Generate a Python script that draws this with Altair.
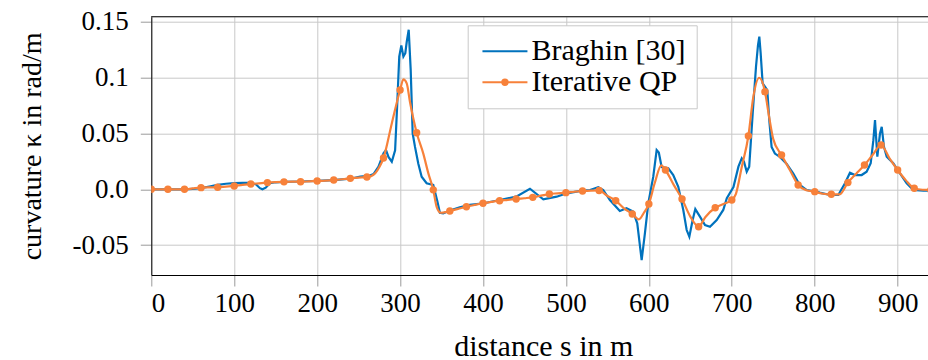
import altair as alt
import pandas as pd

series_names = ["Braghin [30]", "Iterative QP"]
series_colors = ["#0072bd", "#f7813a"]

braghin_s = [0, 20, 40, 50, 60, 70, 80, 90, 100, 110, 120, 126, 131, 134, 138, 143, 150, 160, 180, 200,
             220, 240, 252, 262, 268, 274, 280, 283, 286, 290, 294, 296.6, 299, 301.5, 304, 306.3, 308,
             310.4, 312.8, 315.2, 318, 322, 326, 332, 340, 345, 348, 352, 360, 372, 384, 401, 420, 440,
             456.6, 472.7, 488.8, 501, 521, 529, 539, 545, 553, 565, 573, 581, 586, 591.3, 595.3, 599.3,
             605.3, 609.4, 612, 615.4, 623.4, 629.4, 635.5, 641.5, 645.6, 648.8, 652.8, 656, 661.6, 667.7,
             673.7, 681.8, 689.7, 694, 702, 708, 712, 714.7, 718, 721, 725.2, 729.2, 731.6, 733.2, 734.8,
             737.2, 740, 742.8, 745.2, 748, 752, 758, 766, 774, 782, 790, 802, 806, 818.4, 828.4, 836.5,
             842.5, 848.5, 856.6, 862.6, 867.5, 870.7, 872.7, 875.5, 878.7, 880.8, 883.5, 886.8, 894.7,
             902.8, 910.9, 918.8, 931, 945]
braghin_k = [0, 0, 0, 0.0003, 0.001, 0.0025, 0.004, 0.005, 0.0055, 0.0058, 0.0058, 0.0045, 0.001, 0.0,
             0.0015, 0.0055, 0.0063, 0.0066, 0.007, 0.0075, 0.0082, 0.0095, 0.0113, 0.012, 0.0137, 0.0203,
             0.0323, 0.0352, 0.029, 0.0247, 0.035, 0.077, 0.119, 0.129, 0.119, 0.122, 0.132, 0.143, 0.107,
             0.05, 0.038, 0.023, 0.0113, 0.0054, 0.0039, -0.011, -0.021, -0.0215, -0.019, -0.0161, -0.014,
             -0.0125, -0.0096, -0.0066, 0.0005, -0.009, -0.0066, -0.0036, -0.0009, -0.0006, 0.0018, -0.0006,
             -0.0096, -0.0194, -0.017, -0.02, -0.0305, -0.0634, -0.039, -0.0125, 0.0113, 0.0352, 0.033,
             0.02, 0.0188, 0.0128, 0.0023, -0.0185, -0.0365, -0.0425, -0.0275, -0.0177, -0.0245, -0.032,
             -0.0335, -0.0275, -0.0185, -0.008, 0.002, 0.0203, 0.0278, 0.0247, 0.0158, 0.0203, 0.068, 0.11,
             0.1293, 0.1368, 0.122, 0.095, 0.092, 0.089, 0.062, 0.038, 0.032, 0.029, 0.023, 0.0143, 0.0039,
             -0.0006, -0.002, -0.003, -0.0051, -0.0051, 0.0054, 0.0149, 0.0128, 0.0128, 0.0158, 0.0233,
             0.044, 0.062, 0.0292, 0.05, 0.056, 0.038, 0.0292, 0.0233, 0.0143, 0.0054, -0.0006, -0.0012,
             -0.001]

qp_s = [0, 10, 20, 30, 40, 50, 60, 70, 80, 90, 100, 110, 120, 130, 140, 150, 160, 170, 180, 190, 200,
        210, 220, 230, 240, 250, 260, 265, 270, 275, 280, 290, 300, 304, 308, 312, 320, 328, 334, 340,
        344, 349, 355, 360, 370, 380, 390, 400, 410, 420, 430, 440, 450, 460, 470, 480, 490, 500, 510,
        520, 530, 540, 550, 560, 570, 580, 588, 594, 600, 607, 615, 620, 630, 640, 650, 660, 668, 680,
        690, 700, 705, 712, 720, 726, 733, 740, 745, 750, 760, 770, 780, 790, 800, 810, 820, 830, 840,
        850, 860, 870, 880, 890, 900, 910, 920, 930, 940]
qp_k = [0, 0, 0, 0, 0, 0.0008, 0.0015, 0.0017, 0.0018, 0.0024, 0.003, 0.004, 0.0047, 0.0054, 0.006,
        0.0064, 0.0067, 0.0068, 0.0068, 0.0071, 0.0074, 0.0078, 0.0083, 0.009, 0.0098, 0.0105, 0.011,
        0.0118, 0.0143, 0.02, 0.028, 0.059, 0.089, 0.0985, 0.095, 0.078, 0.0507, 0.032, 0.0145, -0.0005,
        -0.0155, -0.021, -0.0205, -0.0195, -0.0175, -0.0156, -0.014, -0.0125, -0.0113, -0.0102, -0.0095,
        -0.0087, -0.008, -0.0072, -0.0057, -0.0042, -0.0036, -0.003, -0.0022, -0.0015, -0.0011, -0.001,
        -0.006, -0.0102, -0.017, -0.0221, -0.0269, -0.021, -0.0132, 0.0054, 0.0215, 0.0173, 0.004,
        -0.0087, -0.0245, -0.0335, -0.025, -0.0165, -0.0132, -0.0096, -0.004, 0.02, 0.0478, 0.083, 0.1,
        0.0875, 0.065, 0.045, 0.0307, 0.0173, 0.0039, -0.0008, -0.0021, -0.004, -0.0045, -0.0045, 0.006,
        0.014, 0.0218, 0.031, 0.0397, 0.028, 0.0173, 0.008, 0.0009, -0.0004, -0.0006]
marker_step = 20

x_ticks = [0, 100, 200, 300, 400, 500, 600, 700, 800, 900]
y_ticks = [-0.05, 0.0, 0.05, 0.1, 0.15]
y_tick_labels = ["-0.05", "0.0", "0.05", "0.1", "0.15"]
x_domain = [0, 936.6]
y_domain = [-0.0768, 0.1547]

FONT = "Liberation Serif"
PLOT_W, PLOT_H = 776.7, 258.3

df_b = pd.DataFrame({"s": braghin_s, "k": braghin_k, "series": series_names[0]})
df_q = pd.DataFrame({"s": qp_s, "k": qp_k, "series": series_names[1]})
df_m = df_q[df_q["s"] % marker_step == 0]
df_leg = pd.DataFrame({"s": [0, 0], "k": [0, 0], "series": series_names})

y_expr = " : ".join(f"abs(datum.value - ({v})) < 0.000001 ? '{lab}'" for v, lab in zip(y_ticks, y_tick_labels)) + " : ''"


def circle_path(r):
    c = round(0.5523 * r, 4)
    return (f"M{r},0C{r},{c} {c},{r} 0,{r}C{-c},{r} {-r},{c} {-r},0"
            f"C{-r},{-c} {-c},{-r} 0,{-r}C{c},{-r} {r},{-c} {r},0Z")


line_path = "M-2,0L2,0"
qp_path = line_path + circle_path(0.24)

xs = alt.Scale(domain=x_domain, nice=False, zero=False)
ys = alt.Scale(domain=y_domain, nice=False, zero=False)

x_axis = alt.Axis(values=x_ticks, format="d", grid=True, tickSize=11, labelPadding=4,
                  titleX=392, titleY=80, titleBaseline="alphabetic", titleAlign="center",
                  titleFontSize=30)
y_axis = alt.Axis(values=y_ticks, labelExpr=y_expr, grid=True, tickSize=11, labelPadding=12,
                  titleAngle=270, titleX=-111, titleY=129.2, titleBaseline="alphabetic",
                  titleAlign="center")

X = alt.X("s:Q", scale=xs, axis=x_axis, title="distance s in m")
Y = alt.Y("k:Q", scale=ys, axis=y_axis, title="curvature κ in rad/m")

blue = alt.Chart(df_b).mark_line(strokeWidth=2.2, clip=True, color=series_colors[0]).encode(x=X, y=Y)

orange = alt.Chart(df_q).mark_line(strokeWidth=2.2, clip=True, interpolate="monotone",
                                   color=series_colors[1]).encode(x=X, y=Y)

markers = alt.Chart(df_m).mark_circle(size=55, opacity=1, clip=True,
                                      color=series_colors[1]).encode(x=X, y=Y)

top_frame = alt.Chart(df_leg).mark_rule(color="#333333", strokeWidth=1).encode(
    x=alt.value(0), x2=alt.value(PLOT_W), y=alt.value(0)
)

cs = alt.Scale(domain=series_names, range=series_colors)
leg = alt.Legend(title=None, orient="none", legendX=316.4, legendY=8.6, padding=11,
                 fillColor="white", strokeColor="#c8c8c8", labelFont=FONT, labelFontSize=30,
                 labelColor="black", labelLimit=400, symbolSize=506, symbolStrokeWidth=2,
                 symbolOffset=11.25, labelOffset=11.5, rowPadding=1)

legend_layer = alt.Chart(df_leg).transform_filter("false").mark_point(
    filled=True, size=506, strokeWidth=2, opacity=1
).encode(
    x=X, y=Y,
    fill=alt.Fill("series:N", scale=cs, legend=leg),
    stroke=alt.Stroke("series:N", scale=cs, legend=leg),
    shape=alt.Shape("series:N", scale=alt.Scale(domain=series_names, range=[line_path, qp_path]),
                    legend=leg),
)

chart = alt.layer(blue, orange, markers, top_frame, legend_layer).properties(
    width=PLOT_W, height=PLOT_H,
    padding={"left": 151.3, "top": 16.7, "right": 0, "bottom": 85},
    autosize=alt.AutoSizeParams(type="none"),
).configure_view(strokeWidth=0).configure_axis(
    gridColor="#c8c8c8", gridWidth=1, tickColor="#9a9a9a", tickWidth=1,
    domainColor="black", domainWidth=1,
    labelFont=FONT, labelFontSize=27, labelColor="black",
    titleFont=FONT, titleFontSize=28, titleFontWeight="normal", titleColor="black",
)

chart.save("out.html", embed_options={"renderer": "svg", "actions": False})
